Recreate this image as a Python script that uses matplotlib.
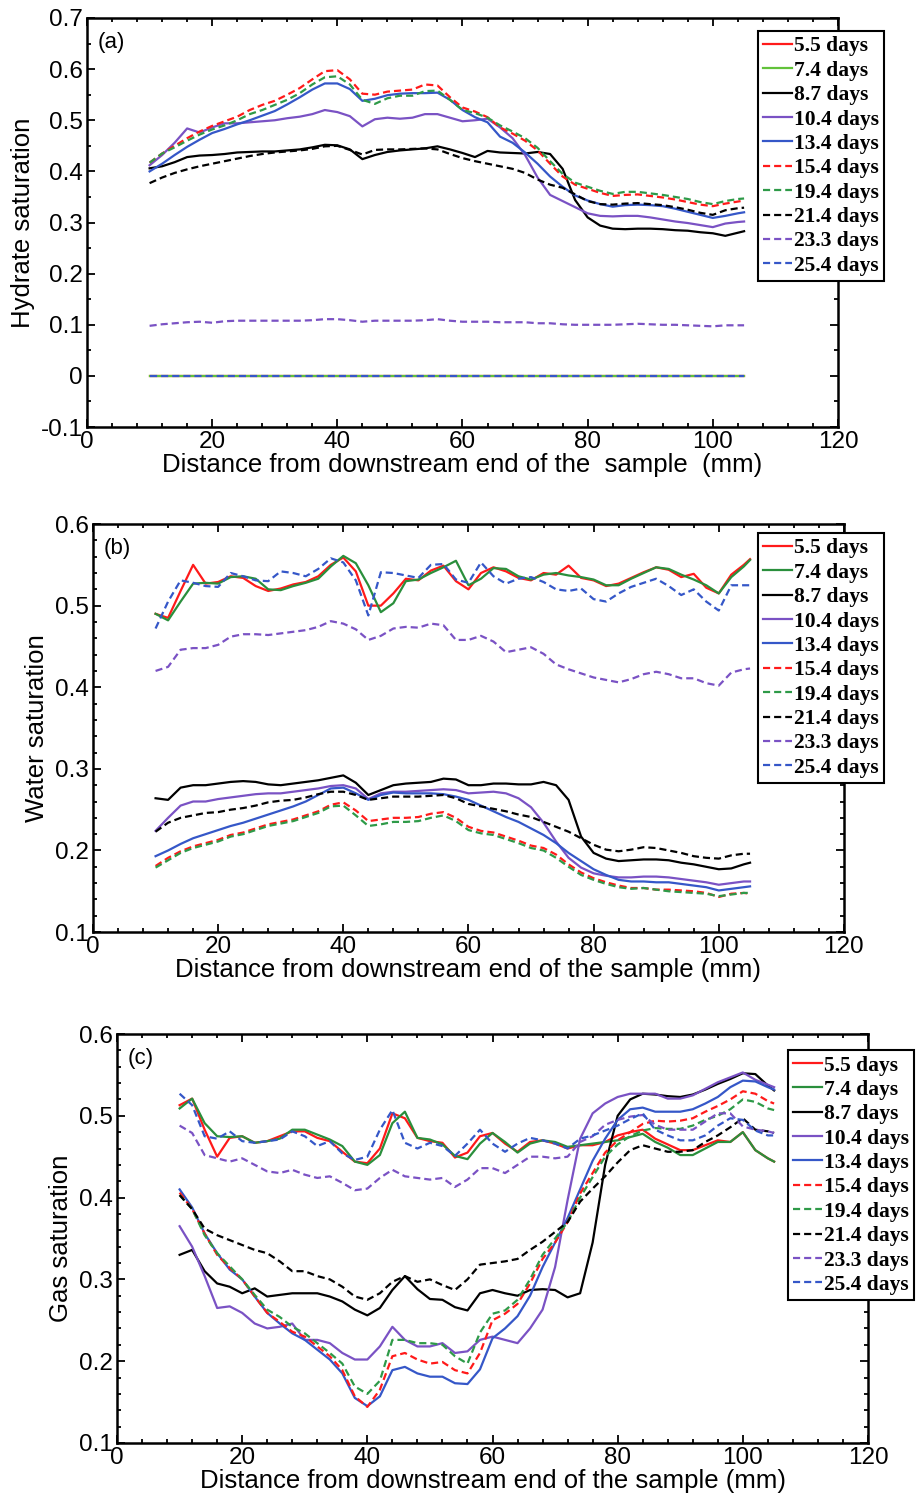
import matplotlib
matplotlib.use("Agg")
import matplotlib.pyplot as plt
from matplotlib.ticker import MultipleLocator, FormatStrFormatter

# ---------------------------------------------------------------------------
# Données (distance en mm, saturations)
# ---------------------------------------------------------------------------
X = [10, 12, 14, 16, 18, 20, 22, 24, 26, 28, 30, 32, 34, 36, 38, 40, 42, 44,
     46, 48, 50, 52, 54, 56, 58, 60, 62, 64, 66, 68, 70, 72, 74, 76, 78, 80,
     82, 84, 86, 88, 90, 92, 94, 96, 98, 100, 102, 104, 105]

LABELS = ["5.5 days", "7.4 days", "8.7 days", "10.4 days", "13.4 days",
          "15.4 days", "19.4 days", "21.4 days", "23.3 days", "25.4 days"]

ZERO = [0.0] * len(X)

# --- (a) saturation en hydrate
hyd_5_5 = ZERO
hyd_7_4 = ZERO
hyd_8_7 = [0.406, 0.410, 0.418, 0.428, 0.431, 0.432, 0.434, 0.437, 0.438, 0.439,
           0.439, 0.441, 0.443, 0.447, 0.452, 0.451, 0.443, 0.424, 0.432, 0.438,
           0.441, 0.443, 0.445, 0.449, 0.443, 0.436, 0.428, 0.440, 0.437, 0.436,
           0.435, 0.438, 0.434, 0.405, 0.344, 0.310, 0.294, 0.288, 0.287, 0.288,
           0.288, 0.287, 0.285, 0.284, 0.281, 0.279, 0.274, 0.280, 0.283]
hyd_10_4 = [0.412, 0.432, 0.456, 0.484, 0.476, 0.486, 0.494, 0.494, 0.496, 0.498,
            0.500, 0.504, 0.507, 0.512, 0.520, 0.516, 0.508, 0.488, 0.502, 0.505,
            0.503, 0.505, 0.512, 0.512, 0.505, 0.498, 0.500, 0.503, 0.486, 0.465,
            0.432, 0.388, 0.354, 0.342, 0.330, 0.318, 0.313, 0.312, 0.313, 0.313,
            0.310, 0.306, 0.302, 0.299, 0.295, 0.291, 0.298, 0.301, 0.302]
hyd_13_4 = [0.400, 0.415, 0.432, 0.448, 0.462, 0.475, 0.483, 0.492, 0.500, 0.509,
            0.518, 0.531, 0.545, 0.560, 0.572, 0.572, 0.561, 0.538, 0.542, 0.549,
            0.552, 0.553, 0.553, 0.554, 0.540, 0.520, 0.506, 0.496, 0.468, 0.456,
            0.437, 0.415, 0.390, 0.370, 0.353, 0.343, 0.336, 0.331, 0.334, 0.335,
            0.334, 0.332, 0.327, 0.321, 0.315, 0.309, 0.313, 0.318, 0.320]
hyd_15_4 = [0.417, 0.435, 0.450, 0.465, 0.478, 0.489, 0.498, 0.507, 0.520, 0.530,
            0.538, 0.550, 0.563, 0.580, 0.596, 0.598, 0.580, 0.552, 0.550, 0.556,
            0.558, 0.560, 0.570, 0.568, 0.545, 0.525, 0.517, 0.506, 0.486, 0.474,
            0.460, 0.441, 0.415, 0.390, 0.374, 0.366, 0.358, 0.352, 0.354, 0.355,
            0.352, 0.349, 0.345, 0.340, 0.335, 0.332, 0.337, 0.341, 0.343]
hyd_19_4 = [0.417, 0.435, 0.447, 0.460, 0.472, 0.482, 0.490, 0.500, 0.512, 0.520,
            0.530, 0.540, 0.553, 0.570, 0.584, 0.586, 0.570, 0.540, 0.532, 0.543,
            0.548, 0.548, 0.557, 0.558, 0.540, 0.520, 0.514, 0.505, 0.490, 0.478,
            0.465, 0.446, 0.420, 0.395, 0.378, 0.370, 0.362, 0.356, 0.360, 0.360,
            0.357, 0.354, 0.350, 0.346, 0.340, 0.336, 0.342, 0.346, 0.347]
hyd_21_4 = [0.377, 0.388, 0.397, 0.404, 0.410, 0.415, 0.420, 0.425, 0.430, 0.434,
            0.437, 0.439, 0.441, 0.444, 0.449, 0.450, 0.442, 0.433, 0.442, 0.443,
            0.443, 0.444, 0.445, 0.443, 0.434, 0.426, 0.420, 0.415, 0.410, 0.405,
            0.397, 0.384, 0.374, 0.368, 0.355, 0.342, 0.336, 0.335, 0.337, 0.338,
            0.336, 0.334, 0.330, 0.325, 0.319, 0.315, 0.324, 0.328, 0.329]
hyd_23_3 = [0.098, 0.101, 0.103, 0.105, 0.106, 0.104, 0.107, 0.108, 0.108, 0.108,
            0.108, 0.108, 0.108, 0.109, 0.111, 0.111, 0.109, 0.106, 0.108, 0.108,
            0.108, 0.108, 0.109, 0.111, 0.108, 0.106, 0.106, 0.106, 0.105, 0.105,
            0.105, 0.103, 0.103, 0.101, 0.100, 0.100, 0.100, 0.100, 0.101, 0.102,
            0.101, 0.100, 0.100, 0.099, 0.098, 0.097, 0.099, 0.099, 0.099]
hyd_25_4 = ZERO

# --- (b) saturation en eau
wat_5_5 = [0.490, 0.485, 0.518, 0.550, 0.527, 0.529, 0.536, 0.534, 0.524, 0.518,
           0.521, 0.526, 0.529, 0.536, 0.550, 0.559, 0.542, 0.500, 0.500, 0.515,
           0.533, 0.531, 0.543, 0.549, 0.530, 0.520, 0.540, 0.547, 0.542, 0.534,
           0.531, 0.540, 0.538, 0.549, 0.534, 0.531, 0.524, 0.527, 0.534, 0.541,
           0.547, 0.544, 0.535, 0.539, 0.522, 0.515, 0.538, 0.550, 0.557]
wat_7_4 = [0.490, 0.482, 0.505, 0.527, 0.528, 0.527, 0.535, 0.536, 0.533, 0.520,
           0.519, 0.524, 0.528, 0.533, 0.548, 0.561, 0.552, 0.525, 0.492, 0.503,
           0.530, 0.532, 0.540, 0.547, 0.555, 0.525, 0.533, 0.546, 0.545, 0.536,
           0.532, 0.538, 0.540, 0.537, 0.535, 0.532, 0.525, 0.525, 0.533, 0.540,
           0.547, 0.545, 0.538, 0.532, 0.525, 0.515, 0.535, 0.548, 0.556]
wat_8_7 = [0.264, 0.262, 0.277, 0.280, 0.280, 0.282, 0.284, 0.285, 0.284, 0.281,
           0.280, 0.282, 0.284, 0.286, 0.289, 0.292, 0.283, 0.268, 0.274, 0.280,
           0.282, 0.283, 0.284, 0.288, 0.287, 0.280, 0.280, 0.282, 0.282, 0.281,
           0.281, 0.284, 0.280, 0.262, 0.217, 0.197, 0.190, 0.187, 0.188, 0.189,
           0.189, 0.188, 0.185, 0.183, 0.180, 0.177, 0.178, 0.183, 0.185]
wat_10_4 = [0.224, 0.240, 0.255, 0.260, 0.260, 0.263, 0.265, 0.267, 0.269, 0.270,
            0.270, 0.272, 0.274, 0.276, 0.279, 0.280, 0.276, 0.263, 0.270, 0.272,
            0.272, 0.273, 0.274, 0.275, 0.274, 0.270, 0.271, 0.272, 0.270, 0.264,
            0.253, 0.234, 0.211, 0.191, 0.179, 0.172, 0.169, 0.167, 0.167, 0.168,
            0.168, 0.167, 0.165, 0.163, 0.161, 0.158, 0.160, 0.162, 0.162]
wat_13_4 = [0.193, 0.200, 0.208, 0.215, 0.220, 0.225, 0.230, 0.234, 0.239, 0.244,
            0.249, 0.254, 0.260, 0.268, 0.276, 0.277, 0.270, 0.262, 0.268, 0.271,
            0.270, 0.270, 0.270, 0.269, 0.266, 0.262, 0.255, 0.248, 0.241, 0.235,
            0.227, 0.219, 0.209, 0.197, 0.187, 0.177, 0.170, 0.164, 0.162, 0.162,
            0.161, 0.161, 0.159, 0.157, 0.155, 0.151, 0.153, 0.155, 0.156]
wat_15_4 = [0.181, 0.191, 0.199, 0.205, 0.209, 0.213, 0.219, 0.222, 0.227, 0.232,
            0.235, 0.238, 0.243, 0.248, 0.256, 0.259, 0.249, 0.236, 0.238, 0.240,
            0.240, 0.241, 0.245, 0.247, 0.240, 0.229, 0.224, 0.222, 0.217, 0.212,
            0.206, 0.203, 0.195, 0.183, 0.173, 0.166, 0.161, 0.157, 0.154, 0.154,
            0.152, 0.152, 0.151, 0.150, 0.148, 0.143, 0.147, 0.148, 0.147]
wat_19_4 = [0.179, 0.188, 0.197, 0.203, 0.207, 0.211, 0.217, 0.220, 0.225, 0.230,
            0.233, 0.236, 0.241, 0.246, 0.254, 0.255, 0.243, 0.230, 0.232, 0.235,
            0.235, 0.236, 0.240, 0.243, 0.236, 0.225, 0.221, 0.219, 0.214, 0.209,
            0.203, 0.200, 0.191, 0.180, 0.170, 0.164, 0.159, 0.155, 0.153, 0.154,
            0.152, 0.150, 0.149, 0.148, 0.147, 0.144, 0.146, 0.148, 0.148]
wat_21_4 = [0.223, 0.234, 0.240, 0.243, 0.246, 0.247, 0.250, 0.252, 0.255, 0.259,
            0.261, 0.262, 0.265, 0.269, 0.272, 0.272, 0.268, 0.262, 0.264, 0.266,
            0.266, 0.266, 0.267, 0.268, 0.264, 0.257, 0.254, 0.251, 0.248, 0.244,
            0.241, 0.235, 0.229, 0.223, 0.215, 0.207, 0.201, 0.199, 0.201, 0.204,
            0.203, 0.200, 0.197, 0.193, 0.191, 0.190, 0.194, 0.196, 0.196]
wat_23_3 = [0.420, 0.425, 0.446, 0.448, 0.448, 0.452, 0.462, 0.465, 0.465, 0.464,
            0.466, 0.468, 0.470, 0.474, 0.481, 0.478, 0.471, 0.458, 0.463, 0.472,
            0.474, 0.473, 0.478, 0.476, 0.458, 0.458, 0.463, 0.456, 0.443, 0.446,
            0.449, 0.441, 0.428, 0.422, 0.417, 0.412, 0.409, 0.406, 0.410, 0.416,
            0.419, 0.416, 0.411, 0.411, 0.405, 0.402, 0.418, 0.422, 0.423]
wat_25_4 = [0.472, 0.505, 0.531, 0.528, 0.524, 0.523, 0.540, 0.536, 0.531, 0.530,
            0.542, 0.540, 0.536, 0.545, 0.558, 0.553, 0.531, 0.488, 0.541, 0.540,
            0.537, 0.534, 0.550, 0.551, 0.532, 0.528, 0.553, 0.536, 0.527, 0.533,
            0.535, 0.529, 0.520, 0.518, 0.521, 0.508, 0.505, 0.515, 0.523, 0.528,
            0.533, 0.524, 0.513, 0.520, 0.505, 0.494, 0.525, 0.525, 0.525]

# --- (c) saturation en gaz
gas_5_5 = [0.513, 0.521, 0.483, 0.450, 0.473, 0.475, 0.467, 0.469, 0.475, 0.481,
           0.481, 0.473, 0.469, 0.456, 0.444, 0.442, 0.460, 0.503, 0.497, 0.473,
           0.469, 0.467, 0.449, 0.455, 0.475, 0.479, 0.466, 0.456, 0.468, 0.470,
           0.466, 0.460, 0.464, 0.464, 0.468, 0.476, 0.480, 0.483, 0.472, 0.465,
           0.458, 0.458, 0.464, 0.470, 0.468, 0.480, 0.458, 0.448, 0.444]
gas_7_4 = [0.509, 0.521, 0.491, 0.475, 0.474, 0.475, 0.467, 0.469, 0.472, 0.483,
           0.483, 0.477, 0.471, 0.463, 0.444, 0.440, 0.452, 0.491, 0.505, 0.473,
           0.471, 0.465, 0.451, 0.447, 0.466, 0.479, 0.468, 0.455, 0.466, 0.470,
           0.468, 0.462, 0.464, 0.466, 0.468, 0.470, 0.474, 0.478, 0.468, 0.461,
           0.452, 0.452, 0.460, 0.468, 0.468, 0.480, 0.458, 0.448, 0.444]
gas_8_7 = [0.330, 0.336, 0.310, 0.295, 0.291, 0.283, 0.289, 0.279, 0.281, 0.283,
           0.283, 0.283, 0.279, 0.273, 0.263, 0.256, 0.265, 0.287, 0.304, 0.288,
           0.276, 0.275, 0.266, 0.262, 0.283, 0.287, 0.283, 0.280, 0.287, 0.288,
           0.287, 0.278, 0.283, 0.345, 0.440, 0.500, 0.520, 0.527, 0.526, 0.524,
           0.523, 0.526, 0.532, 0.539, 0.545, 0.552, 0.551, 0.537, 0.531]
gas_10_4 = [0.365, 0.340, 0.304, 0.265, 0.267, 0.259, 0.246, 0.240, 0.242, 0.246,
            0.226, 0.226, 0.222, 0.210, 0.202, 0.202, 0.218, 0.242, 0.226, 0.218,
            0.218, 0.222, 0.210, 0.212, 0.226, 0.230, 0.226, 0.222, 0.240, 0.263,
            0.315, 0.397, 0.472, 0.503, 0.515, 0.523, 0.527, 0.527, 0.527, 0.521,
            0.521, 0.525, 0.533, 0.541, 0.547, 0.553, 0.544, 0.538, 0.535]
gas_13_4 = [0.410, 0.388, 0.356, 0.332, 0.312, 0.300, 0.279, 0.259, 0.246, 0.234,
            0.226, 0.214, 0.202, 0.185, 0.155, 0.145, 0.157, 0.189, 0.193, 0.185,
            0.181, 0.181, 0.173, 0.172, 0.190, 0.228, 0.240, 0.255, 0.280, 0.315,
            0.345, 0.375, 0.410, 0.445, 0.472, 0.495, 0.508, 0.510, 0.505, 0.505,
            0.505, 0.508, 0.515, 0.523, 0.535, 0.543, 0.542, 0.535, 0.532]
gas_15_4 = [0.406, 0.386, 0.356, 0.330, 0.314, 0.300, 0.279, 0.259, 0.248, 0.236,
            0.230, 0.218, 0.206, 0.189, 0.157, 0.144, 0.165, 0.206, 0.210, 0.202,
            0.197, 0.199, 0.189, 0.185, 0.210, 0.250, 0.258, 0.270, 0.295, 0.325,
            0.345, 0.370, 0.405, 0.430, 0.455, 0.470, 0.480, 0.490, 0.494, 0.493,
            0.494, 0.497, 0.505, 0.512, 0.520, 0.530, 0.527, 0.518, 0.515]
gas_19_4 = [0.403, 0.386, 0.354, 0.332, 0.316, 0.300, 0.281, 0.263, 0.254, 0.242,
            0.234, 0.222, 0.210, 0.197, 0.169, 0.160, 0.176, 0.226, 0.226, 0.222,
            0.222, 0.220, 0.206, 0.197, 0.235, 0.258, 0.262, 0.275, 0.300, 0.330,
            0.350, 0.370, 0.400, 0.425, 0.450, 0.465, 0.475, 0.482, 0.485, 0.484,
            0.484, 0.488, 0.495, 0.500, 0.508, 0.520, 0.517, 0.509, 0.507]
gas_21_4 = [0.403, 0.386, 0.362, 0.354, 0.348, 0.342, 0.336, 0.332, 0.322, 0.310,
            0.310, 0.304, 0.300, 0.291, 0.279, 0.275, 0.283, 0.297, 0.304, 0.297,
            0.300, 0.293, 0.287, 0.300, 0.318, 0.320, 0.322, 0.325, 0.336, 0.346,
            0.358, 0.370, 0.395, 0.411, 0.426, 0.443, 0.458, 0.464, 0.460, 0.456,
            0.456, 0.458, 0.468, 0.476, 0.486, 0.497, 0.483, 0.481, 0.479]
gas_23_3 = [0.488, 0.479, 0.452, 0.448, 0.444, 0.448, 0.440, 0.432, 0.430, 0.434,
            0.428, 0.424, 0.426, 0.418, 0.409, 0.411, 0.424, 0.434, 0.426, 0.424,
            0.422, 0.424, 0.413, 0.422, 0.436, 0.436, 0.430, 0.440, 0.450, 0.450,
            0.448, 0.450, 0.468, 0.475, 0.489, 0.495, 0.499, 0.501, 0.489, 0.483,
            0.483, 0.483, 0.493, 0.503, 0.503, 0.487, 0.483, 0.481, 0.479]
gas_25_4 = [0.527, 0.513, 0.475, 0.472, 0.481, 0.469, 0.467, 0.469, 0.471, 0.481,
            0.475, 0.463, 0.469, 0.454, 0.446, 0.450, 0.483, 0.507, 0.467, 0.460,
            0.467, 0.463, 0.451, 0.466, 0.483, 0.466, 0.456, 0.466, 0.473, 0.470,
            0.466, 0.460, 0.472, 0.476, 0.482, 0.488, 0.496, 0.503, 0.483, 0.476,
            0.470, 0.470, 0.476, 0.488, 0.497, 0.495, 0.482, 0.476, 0.476]

HYDRATE = [hyd_5_5, hyd_7_4, hyd_8_7, hyd_10_4, hyd_13_4,
           hyd_15_4, hyd_19_4, hyd_21_4, hyd_23_3, hyd_25_4]
WATER = [wat_5_5, wat_7_4, wat_8_7, wat_10_4, wat_13_4,
         wat_15_4, wat_19_4, wat_21_4, wat_23_3, wat_25_4]
GAS = [gas_5_5, gas_7_4, gas_8_7, gas_10_4, gas_13_4,
       gas_15_4, gas_19_4, gas_21_4, gas_23_3, gas_25_4]

# ---------------------------------------------------------------------------
# Styles
# ---------------------------------------------------------------------------
RED, BLACK, PURPLE, BLUE = "#ff1a1a", "#000000", "#7a52c4", "#3557c8"
GREEN_DARK, GREEN_LIGHT, GREEN_DASH = "#2a8f3c", "#62c23a", "#2e9a48"
DASH = (0, (3.2, 1.8))


def styles(green_solid):
    return [(RED, "-"), (green_solid, "-"), (BLACK, "-"), (PURPLE, "-"),
            (BLUE, "-"), (RED, DASH), (GREEN_DASH, DASH), (BLACK, DASH),
            (PURPLE, DASH), (BLUE, DASH)]


SANS = "Liberation Sans"
LEG_PROP = {"family": "Liberation Serif", "weight": "bold", "size": 15.5}

fig = plt.figure(figsize=(9.18, 14.99), dpi=100)

PANELS = [
    # rect, data, ylim, ytick step, minor, ylabel, tag, legend anchor, green
    ([0.0948, 0.7151, 0.818, 0.2729], HYDRATE, (-0.1, 0.7), 0.1, 0.05,
     "Hydrate saturation", "(a)", (0.8257, 0.9793), GREEN_LIGHT,
     "Distance from downstream end of the  sample  (mm)"),
    ([0.1013, 0.3782, 0.818, 0.2722], WATER, (0.1, 0.6), 0.1, 0.02,
     "Water saturation", "(b)", (0.8257, 0.6444), GREEN_DARK,
     "Distance from downstream end of the sample (mm)"),
    ([0.1275, 0.0374, 0.818, 0.2728], GAS, (0.1, 0.6), 0.1, 0.02,
     "Gas saturation", "(c)", (0.8584, 0.2995), GREEN_DARK,
     "Distance from downstream end of the sample (mm)"),
]

for rect, series, ylim, ystep, yminor, ylabel, tag, anchor, green, xlabel in PANELS:
    ax = fig.add_axes(rect)
    for vals, lab, (col, ls) in zip(series, LABELS, styles(green)):
        ax.plot(X, vals, color=col, linestyle=ls, linewidth=1.6, label=lab)

    ax.set_xlim(0, 120)
    ax.set_ylim(*ylim)
    ax.xaxis.set_major_locator(MultipleLocator(20))
    ax.xaxis.set_minor_locator(MultipleLocator(4))
    ax.yaxis.set_major_locator(MultipleLocator(ystep))
    ax.yaxis.set_minor_locator(MultipleLocator(yminor))
    ax.yaxis.set_major_formatter(FormatStrFormatter("%g"))
    ax.tick_params(which="both", direction="in", top=True, right=True,
                   width=1.3, labelsize=17.5)
    ax.tick_params(which="major", length=6, pad=3)
    ax.tick_params(which="minor", length=3)
    for lbl in ax.get_xticklabels() + ax.get_yticklabels():
        lbl.set_fontfamily(SANS)
    for sp in ax.spines.values():
        sp.set_linewidth(1.8)

    ax.set_xlabel(xlabel, fontsize=18.5, fontfamily=SANS, labelpad=0)
    ax.set_ylabel(ylabel, fontsize=18.5, fontfamily=SANS, labelpad=4)
    ax.text(0.014, 0.94, tag, transform=ax.transAxes, fontsize=16,
            fontfamily=SANS, va="center", ha="left")

    leg = ax.legend(loc="upper left", bbox_to_anchor=anchor,
                    bbox_transform=fig.transFigure, prop=LEG_PROP,
                    fancybox=False, framealpha=1, edgecolor="black",
                    borderaxespad=0, borderpad=0.25, labelspacing=0.2,
                    handlelength=1.35, handletextpad=0.05)
    leg.get_frame().set_linewidth(1.5)

fig.savefig("out.png", dpi=100)
